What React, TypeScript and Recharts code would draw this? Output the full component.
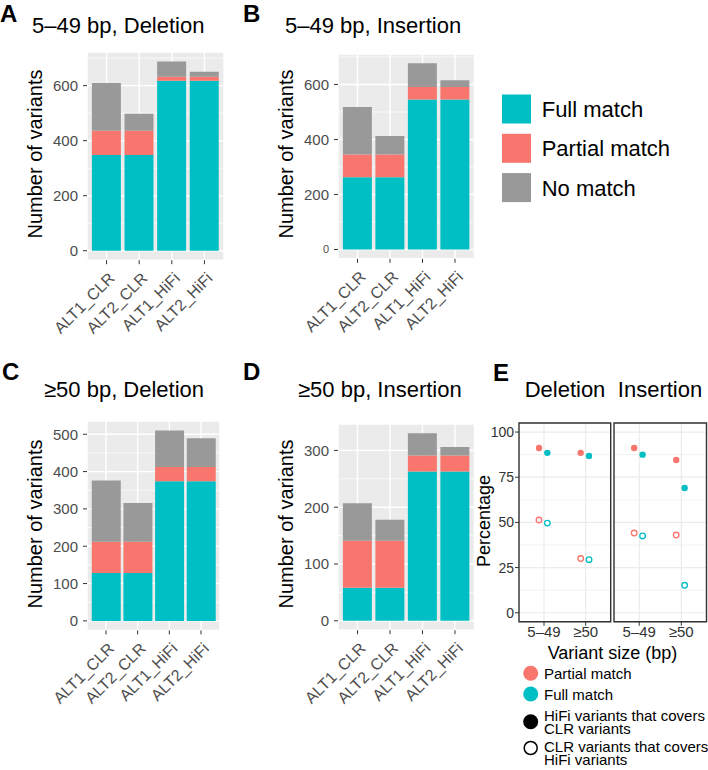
import {
  BarChart,
  Bar,
  XAxis,
  YAxis,
  CartesianGrid,
  ScatterChart,
  Scatter,
  ReferenceArea
} from 'recharts'

const groups = ['ALT1_CLR', 'ALT2_CLR', 'ALT1_HiFi', 'ALT2_HiFi']

// A: 5–49 bp, deletion
const delSmallFull = [348, 348, 618, 618]
const delSmallPartial = [88, 88, 14, 14]
const delSmallNone = [174, 62, 56, 19]

// B: 5–49 bp, insertion
const insSmallFull = [263, 263, 545, 545]
const insSmallPartial = [82, 82, 46, 46]
const insSmallNone = [173, 68, 86, 24]

// C: >=50 bp, deletion
const delLargeFull = [128, 128, 374, 374]
const delLargePartial = [84, 84, 38, 38]
const delLargeNone = [164, 104, 98, 77]

// D: >=50 bp, insertion
const insLargeFull = [58, 58, 263, 263]
const insLargePartial = [83, 83, 28, 28]
const insLargeNone = [66, 37, 39, 15]

const smallTicks = [0, 200, 400, 600]
const smallMinor = [100, 300, 500, 700]
const delLargeTicks = [0, 100, 200, 300, 400, 500]
const delLargeMinor = [50, 150, 250, 350, 450]
const insLargeTicks = [0, 100, 200, 300]
const insLargeMinor = [50, 150, 250]

// E: percentage of matched variants
const sizeCats = ['5–49', '≥50']
const delPartialHiFi = [91.2, 88.5]
const delFullHiFi = [88.5, 86.8]
const delPartialCLR = [51.3, 30.0]
const delFullCLR = [49.6, 29.4]
const insPartialHiFi = [91.2, 84.5]
const insFullHiFi = [87.5, 69.0]
const insPartialCLR = [44.1, 43.0]
const insFullCLR = [42.5, 15.2]
const pctTicks = [0, 25, 50, 75, 100]
const pctMinor = [12.5, 37.5, 62.5, 87.5]

const FULL = '#00BFC4'
const PARTIAL = '#F8766D'
const NONE = '#999999'
const FONT = '"Liberation Sans", Arial, Helvetica, sans-serif'

const SlantTick = (props: any) => {
  const { x, y, payload } = props
  const ax = x + 1
  const ay = y + 5
  return (
    <text
      x={ax}
      y={ay}
      dy="0.72em"
      textAnchor="end"
      fill="#4D4D4D"
      fontSize={16}
      transform={`rotate(-45 ${ax} ${ay})`}
    >
      {payload.value}
    </text>
  )
}

const makeYTick = (smallZero: boolean) => (props: any) => {
  const { x, y, payload } = props
  const small = smallZero && payload.value === 0
  return (
    <text x={x} y={y} dy="0.355em" textAnchor="end" fill="#4D4D4D" fontSize={small ? 11 : 15}>
      {payload.value}
    </text>
  )
}

interface BarPanelProps {
  full: number[]
  partial: number[]
  none: number[]
  ticks: number[]
  minor: number[]
  plotLeft: number
  plotRight: number
  plotTop: number
  plotBottom: number
  smallZero?: boolean
}

function BarPanel({ full, partial, none, ticks, minor, plotLeft, plotRight, plotTop, plotBottom, smallZero = false }: BarPanelProps) {
  const data = groups.map((g, i) => ({ group: g, full: full[i], partial: partial[i], none: none[i] }))
  const maxTotal = Math.max(...data.map(d => d.full + d.partial + d.none))
  const left = plotLeft - 60
  const top = plotTop - 10
  const width = plotRight - left + 10
  const height = plotBottom - top + 100
  const unit = (plotRight - plotLeft) / 4.2
  return (
    <div style={{ position: 'absolute', left, top }}>
      <BarChart
        width={width}
        height={height}
        data={data}
        margin={{ top: 10, right: 10, left: 10, bottom: 10 }}
        barCategoryGap="5%"
      >
        <CartesianGrid stroke="#FFFFFF" strokeWidth={1.4} fill="#EBEBEB" />
        <CartesianGrid stroke="#FFFFFF" strokeWidth={0.7} vertical={false} horizontalValues={minor} />
        <XAxis
          dataKey="group"
          height={90}
          padding={{ left: unit * 0.1, right: unit * 0.1 }}
          axisLine={false}
          tickLine={{ stroke: '#333333' }}
          tickSize={4}
          tickMargin={2}
          interval={0}
          tick={<SlantTick />}
        />
        <YAxis
          type="number"
          width={50}
          domain={[-0.05 * maxTotal, 1.05 * maxTotal]}
          ticks={ticks}
          allowDataOverflow
          axisLine={false}
          tickLine={{ stroke: '#333333' }}
          tickSize={4}
          tickMargin={5}
          tick={makeYTick(smallZero)}
        />
        <Bar dataKey="full" stackId="a" fill={FULL} isAnimationActive={false} />
        <Bar dataKey="partial" stackId="a" fill={PARTIAL} isAnimationActive={false} />
        <Bar dataKey="none" stackId="a" fill={NONE} isAnimationActive={false} />
      </BarChart>
    </div>
  )
}

interface PointSeries {
  values: number[]
  color: string
  filled: boolean
  dodge: number
}

function Facet({ series, plotLeft, plotRight, showY }: { series: PointSeries[]; plotLeft: number; plotRight: number; showY: boolean }) {
  const plotTop = 422.7
  const plotBottom = 621.5
  const yw = showY ? 40 : 0
  const left = plotLeft - yw - 4
  const top = plotTop - 4
  const width = plotRight - left + 4
  const height = plotBottom - top + 30
  return (
    <div style={{ position: 'absolute', left, top }}>
      <ScatterChart width={width} height={height} margin={{ top: 4, right: 4, left: 4, bottom: 4 }}>
        <CartesianGrid stroke="#EBEBEB" strokeWidth={1.2} fill="#FFFFFF" />
        <CartesianGrid stroke="#EBEBEB" strokeWidth={0.6} vertical={false} horizontalValues={pctMinor} />
        <XAxis
          type="number"
          dataKey="x"
          domain={[0.4, 2.6]}
          ticks={[1, 2]}
          allowDataOverflow
          height={26}
          axisLine={false}
          tickLine={{ stroke: '#333333' }}
          tickSize={4}
          tickMargin={1}
          tickFormatter={(v: number) => sizeCats[v - 1]}
          tick={{ fill: '#333333', fontSize: 15 }}
        />
        <YAxis
          type="number"
          dataKey="y"
          domain={[-5, 105]}
          ticks={pctTicks}
          allowDataOverflow
          hide={!showY}
          width={yw}
          axisLine={false}
          tickLine={{ stroke: '#333333' }}
          tickSize={4}
          tickMargin={1}
          tick={{ fill: '#333333', fontSize: 14 }}
        />
        {series.map((s, k) => (
          <Scatter
            key={k}
            data={s.values.map((v, i) => ({ x: i + 1 + s.dodge, y: v }))}
            isAnimationActive={false}
            shape={(p: any) => (
              <circle
                cx={p.cx}
                cy={p.cy}
                r={s.filled ? 3.2 : 2.8}
                fill={s.filled ? s.color : '#FFFFFF'}
                stroke={s.color}
                strokeWidth={s.filled ? 0 : 1.3}
              />
            )}
          />
        ))}
        <ReferenceArea x1={0.4} x2={2.6} y1={-5} y2={105} fill="none" stroke="#333333" strokeWidth={1.4} ifOverflow="visible" />
      </ScatterChart>
    </div>
  )
}

const partialDodge = -0.12
const fullDodge = 0.08

const delSeries: PointSeries[] = [
  { values: delPartialHiFi, color: PARTIAL, filled: true, dodge: partialDodge },
  { values: delFullHiFi, color: FULL, filled: true, dodge: fullDodge },
  { values: delPartialCLR, color: PARTIAL, filled: false, dodge: partialDodge },
  { values: delFullCLR, color: FULL, filled: false, dodge: fullDodge }
]
const insSeries: PointSeries[] = [
  { values: insPartialHiFi, color: PARTIAL, filled: true, dodge: partialDodge },
  { values: insFullHiFi, color: FULL, filled: true, dodge: fullDodge },
  { values: insPartialCLR, color: PARTIAL, filled: false, dodge: partialDodge },
  { values: insFullCLR, color: FULL, filled: false, dodge: fullDodge }
]

export default function App() {
  return (
    <div style={{ position: 'absolute', left: 0, top: 0, width: 708, height: 770, background: '#FFFFFF', fontFamily: FONT, overflow: 'hidden' }}>
      <BarPanel full={delSmallFull} partial={delSmallPartial} none={delSmallNone} ticks={smallTicks} minor={smallMinor}
        plotLeft={87} plotRight={224} plotTop={52.3} plotBottom={260.5} />
      <BarPanel full={insSmallFull} partial={insSmallPartial} none={insSmallNone} ticks={smallTicks} minor={smallMinor}
        plotLeft={338} plotRight={474.5} plotTop={53.8} plotBottom={258.6} smallZero />
      <BarPanel full={delLargeFull} partial={delLargePartial} none={delLargeNone} ticks={delLargeTicks} minor={delLargeMinor}
        plotLeft={87} plotRight={220} plotTop={420.8} plotBottom={630.2} />
      <BarPanel full={insLargeFull} partial={insLargePartial} none={insLargeNone} ticks={insLargeTicks} minor={insLargeMinor}
        plotLeft={338} plotRight={474.5} plotTop={424.2} plotBottom={630.4} />
      <Facet series={delSeries} plotLeft={519.3} plotRight={611} showY />
      <Facet series={insSeries} plotLeft={614} plotRight={706.5} showY={false} />

      <svg width={708} height={770} style={{ position: 'absolute', left: 0, top: 0, pointerEvents: 'none' }} fontFamily={FONT}>
        <g fontSize={24} fontWeight="bold" fill="#000">
          <text x={0} y={22}>A</text>
          <text x={243} y={22}>B</text>
          <text x={2} y={380}>C</text>
          <text x={243} y={380}>D</text>
          <text x={493} y={381}>E</text>
        </g>
        <g fontSize={22} fill="#000">
          <text x={32} y={32.5}>5–49 bp, Deletion</text>
          <text x={285} y={32.5}>5–49 bp, Insertion</text>
          <text x={44} y={397}>≥50 bp, Deletion</text>
          <text x={298} y={397}>≥50 bp, Insertion</text>
          <text x={565} y={396.5} textAnchor="middle">Deletion</text>
          <text x={660} y={396.5} textAnchor="middle">Insertion</text>
        </g>
        <g fontSize={20} fill="#000" textAnchor="middle">
          <text transform="translate(41.5 154) rotate(-90)">Number of variants</text>
          <text transform="translate(292.5 154) rotate(-90)">Number of variants</text>
          <text transform="translate(41.5 524) rotate(-90)">Number of variants</text>
          <text transform="translate(292.5 524) rotate(-90)">Number of variants</text>
        </g>
        <g fontSize={18} fill="#000" textAnchor="middle">
          <text transform="translate(490 521) rotate(-90)">Percentage</text>
          <text x={612.5} y={659}>Variant size (bp)</text>
        </g>
        <g>
          <rect x={502} y={94.5} width={29} height={29} fill={FULL} />
          <rect x={502} y={133.8} width={29} height={29} fill={PARTIAL} />
          <rect x={502} y={173.1} width={29} height={29} fill={NONE} />
          <g fontSize={22} fill="#000">
            <text x={541.7} y={117}>Full match</text>
            <text x={541.7} y={156}>Partial match</text>
            <text x={541.7} y={195.5}>No match</text>
          </g>
        </g>
        <g>
          <circle cx={530.7} cy={673.3} r={7.5} fill={PARTIAL} />
          <circle cx={530.7} cy={694} r={7.5} fill={FULL} />
          <circle cx={530.7} cy={721.7} r={7.5} fill="#000" />
          <circle cx={530.7} cy={748} r={6.5} fill="#FFF" stroke="#000" strokeWidth={1.5} />
          <g fontSize={15} fill="#000">
            <text x={544} y={679}>Partial match</text>
            <text x={544} y={700}>Full match</text>
            <text x={544} y={720.5}>
              <tspan x={544}>HiFi variants that covers</tspan>
              <tspan x={544} dy={13.5}>CLR variants</tspan>
            </text>
            <text x={544} y={751.5}>
              <tspan x={544}>CLR variants that covers</tspan>
              <tspan x={544} dy={13.5}>HiFi variants</tspan>
            </text>
          </g>
        </g>
      </svg>
    </div>
  )
}
